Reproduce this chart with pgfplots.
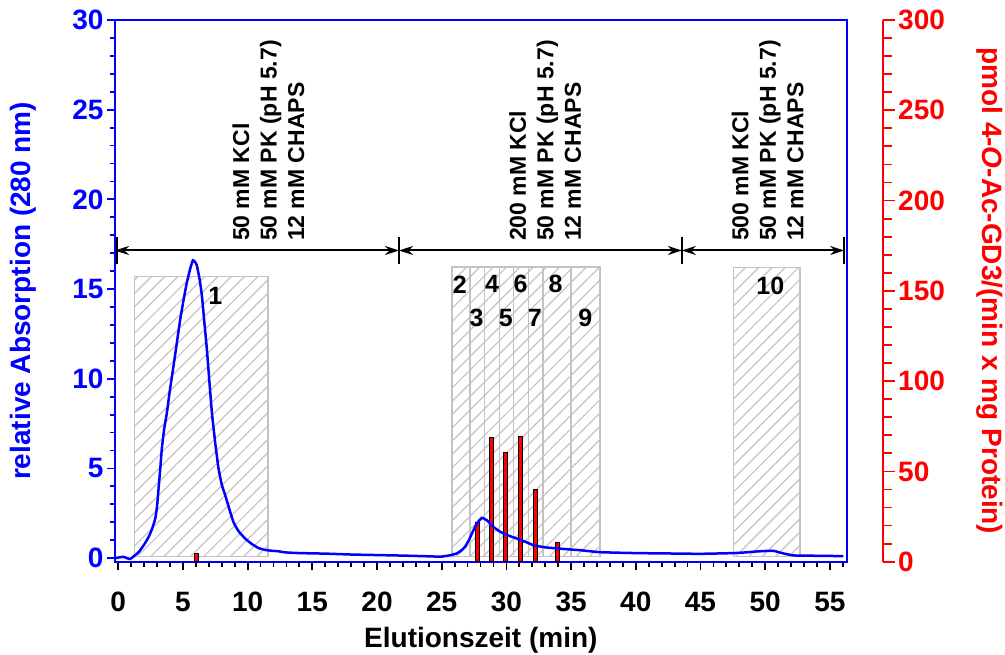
\documentclass[border=0pt]{standalone}
\usepackage{pgfplots}
\pgfplotsset{compat=1.18}
\usepackage{fontspec}
\setmainfont{Liberation Sans}
\usetikzlibrary{patterns.meta,arrows.meta}
\definecolor{myblue}{RGB}{0,0,255}
\definecolor{myred}{RGB}{255,0,0}
\definecolor{boxgray}{RGB}{195,195,195}
\newcommand{\tfont}{\fontsize{28}{30}\selectfont\bfseries}
\newcommand{\afont}{\fontsize{23}{27.5}\selectfont\bfseries}
\newcommand{\nfont}{\fontsize{25}{28}\selectfont\bfseries}
\begin{document}
\begin{tikzpicture}
\pgfplotsset{
  base/.style={
    scale only axis, width=731.7pt, height=541.7pt,
    xmin=-0.25, xmax=56.3,
    /pgf/number format/assume math mode=true,
    clip=false,
  },
  fbox/.style={draw=boxgray, line width=1.5pt,
    pattern={Lines[angle=45,distance=9.4pt,line width=1.2pt]}, pattern color=boxgray},
}
% ---------- main axis (left scale) ----------
\begin{axis}[base,
  name=main,
  ymin=-0.2, ymax=30,
  xtick={0,5,...,60}, minor x tick num=4,
  ytick={0,5,...,30}, minor y tick num=4,
  xtick pos=bottom, ytick pos=left,
  tick align=outside,
  major tick length=8pt, minor tick length=5pt,
  x axis line style={black, line width=2pt},
  y axis line style={myblue, line width=2pt},
  x tick style={black, line width=1.8pt},
  y tick style={myblue, line width=1.8pt},
  xticklabel style={font=\tfont, black, anchor=center, yshift=-32.3pt},
  yticklabel style={font=\tfont, myblue},
  xlabel={Elutionszeit (min)},
  ylabel={relative Absorption (280 nm)},
  xlabel style={font=\tfont, at={(axis description cs:0.5,-0.1446)}, anchor=center},
  ylabel style={font=\tfont, myblue, at={(axis description cs:-0.1257,0.5)}, anchor=center},
]
% fraction boxes
\addplot[fbox] coordinates {(1.26,0.1) (1.26,15.7) (11.57,15.7) (11.57,0.1)} -- cycle;
\addplot[fbox] coordinates {(25.79,0.1) (25.79,16.24) (27.20,16.24) (27.20,0.1)} -- cycle;
\addplot[fbox] coordinates {(27.20,0.1) (27.20,16.24) (28.31,16.24) (28.31,0.1)} -- cycle;
\addplot[fbox] coordinates {(28.31,0.1) (28.31,16.24) (29.47,16.24) (29.47,0.1)} -- cycle;
\addplot[fbox] coordinates {(29.47,0.1) (29.47,16.24) (30.55,16.24) (30.55,0.1)} -- cycle;
\addplot[fbox] coordinates {(30.55,0.1) (30.55,16.24) (31.71,16.24) (31.71,0.1)} -- cycle;
\addplot[fbox] coordinates {(31.71,0.1) (31.71,16.24) (32.82,16.24) (32.82,0.1)} -- cycle;
\addplot[fbox] coordinates {(32.82,0.1) (32.82,16.24) (35.01,16.24) (35.01,0.1)} -- cycle;
\addplot[fbox] coordinates {(35.01,0.1) (35.01,16.24) (37.25,16.24) (37.25,0.1)} -- cycle;
\addplot[fbox] coordinates {(47.55,0.1) (47.55,16.2) (52.70,16.2) (52.70,0.1)} -- cycle;
% fraction numbers
\node[font=\nfont] at (axis cs:7.5,14.6) {1};
\node[font=\nfont] at (axis cs:26.4,15.26) {2};
\node[font=\nfont] at (axis cs:28.9,15.26) {4};
\node[font=\nfont] at (axis cs:31.1,15.26) {6};
\node[font=\nfont] at (axis cs:33.8,15.26) {8};
\node[font=\nfont] at (axis cs:27.7,13.37) {3};
\node[font=\nfont] at (axis cs:29.96,13.37) {5};
\node[font=\nfont] at (axis cs:32.2,13.37) {7};
\node[font=\nfont] at (axis cs:36.1,13.37) {9};
\node[font=\nfont] at (axis cs:50.4,15.2) {10};
% buffer arrows
\draw[line width=2pt, {Stealth[length=14pt,width=9pt]}-{Stealth[length=14pt,width=9pt]}] (axis cs:-0.25,17.15) -- (axis cs:21.7,17.15);
\draw[line width=2pt, {Stealth[length=14pt,width=9pt]}-{Stealth[length=14pt,width=9pt]}] (axis cs:21.7,17.15) -- (axis cs:43.56,17.15);
\draw[line width=2pt, {Stealth[length=14pt,width=9pt]}-{Stealth[length=14pt,width=9pt]}] (axis cs:43.56,17.15) -- (axis cs:56.1,17.15);
\draw[line width=2pt] (axis cs:-0.1,16.37) -- (axis cs:-0.1,17.93);
\draw[line width=2pt] (axis cs:21.7,16.37) -- (axis cs:21.7,17.93);
\draw[line width=2pt] (axis cs:43.56,16.37) -- (axis cs:43.56,17.93);
\draw[line width=2pt] (axis cs:56.1,16.37) -- (axis cs:56.1,17.93);
% buffer texts
\node[rotate=90, anchor=west, inner sep=0pt, align=left, font=\afont] at (axis cs:11.6,17.67) {50 mM KCl\\50 mM PK (pH 5.7)\\12 mM CHAPS};
\node[rotate=90, anchor=west, inner sep=0pt, align=left, font=\afont] at (axis cs:33.0,17.67) {200 mM KCl\\50 mM PK (pH 5.7)\\12 mM CHAPS};
\node[rotate=90, anchor=west, inner sep=0pt, align=left, font=\afont] at (axis cs:50.2,17.67) {500 mM KCl\\50 mM PK (pH 5.7)\\12 mM CHAPS};
\end{axis}
% ---------- right axis (activity) ----------
\begin{axis}[base,
  ymin=0, ymax=300,
  axis x line=none,
  axis y line*=right,
  axis y line shift=36pt,
  ytick={0,50,...,300}, minor y tick num=4,
  tick align=outside,
  major tick length=12pt, minor tick length=9pt,
  y axis line style={myred, line width=2pt, -},
  y tick style={myred, line width=1.8pt},
  yticklabel style={font=\tfont, myred},
  ylabel={pmol 4-\textit{O}-Ac-GD3/(min x mg Protein)},
  ylabel style={font=\tfont, myred, at={(axis description cs:1.196,0.5)}, anchor=center, rotate=180},
]
\addplot[ybar, bar width=4.5pt, fill=myred, draw=black, line width=1pt] coordinates {
(6.03,4.6) (27.77,21.6) (28.83,68.9) (29.93,60.4) (31.09,69.6) (32.23,40.1) (33.93,10.7)
};
\end{axis}
% ---------- curve ----------
\begin{axis}[base, ymin=-0.2, ymax=30, axis lines=none]
\addplot[myblue, line width=2.5pt, smooth, tension=0.3] coordinates {
(-0.2,0.0) (0.0,0.03) (0.4,0.07) (0.9,-0.05) (1.2,0.1) (1.6,0.35) (2.0,0.75) (2.35,1.18) (2.6,1.6) (2.86,2.2) (3.0,2.9) (3.12,3.9) (3.25,5.0) (3.37,6.1) (3.55,7.2) (3.76,8.1) (4.0,9.4) (4.27,10.7) (4.55,12.1) (4.79,13.3) (5.05,14.4) (5.3,15.35) (5.55,16.1) (5.77,16.6) (5.95,16.5) (6.08,16.3) (6.3,15.5) (6.47,14.6) (6.65,13.2) (6.85,11.65) (7.05,9.8) (7.24,8.1) (7.5,6.4) (7.75,5.0) (8.0,4.1) (8.27,3.5) (8.6,2.7) (8.91,2.0) (9.3,1.5) (9.81,1.09) (10.3,0.8) (10.84,0.56) (11.4,0.45) (11.88,0.41) (12.4,0.38) (12.9,0.32) (14,0.28) (16,0.25) (18,0.2) (20,0.17) (22,0.14) (24,0.1) (24.9,0.08) (25.6,0.15) (26.17,0.26) (26.5,0.42) (26.8,0.63) (27.1,1.0) (27.33,1.37) (27.72,1.93) (28.1,2.24) (28.49,2.11) (29.0,1.74) (29.4,1.52) (29.78,1.37) (30.3,1.22) (30.81,1.09) (31.5,0.9) (32.1,0.72) (33.0,0.6) (33.9,0.54) (35.7,0.44) (37.25,0.33) (40,0.28) (42.4,0.26) (45,0.24) (47.55,0.28) (48.5,0.32) (49.35,0.37) (50.6,0.41) (51.3,0.28) (52.2,0.15) (54,0.13) (56.05,0.11)
};
\end{axis}
\pgfresetboundingbox
\useasboundingbox (-115pt,-92.3pt) rectangle (890pt,561.7pt);
\end{tikzpicture}
\end{document}
